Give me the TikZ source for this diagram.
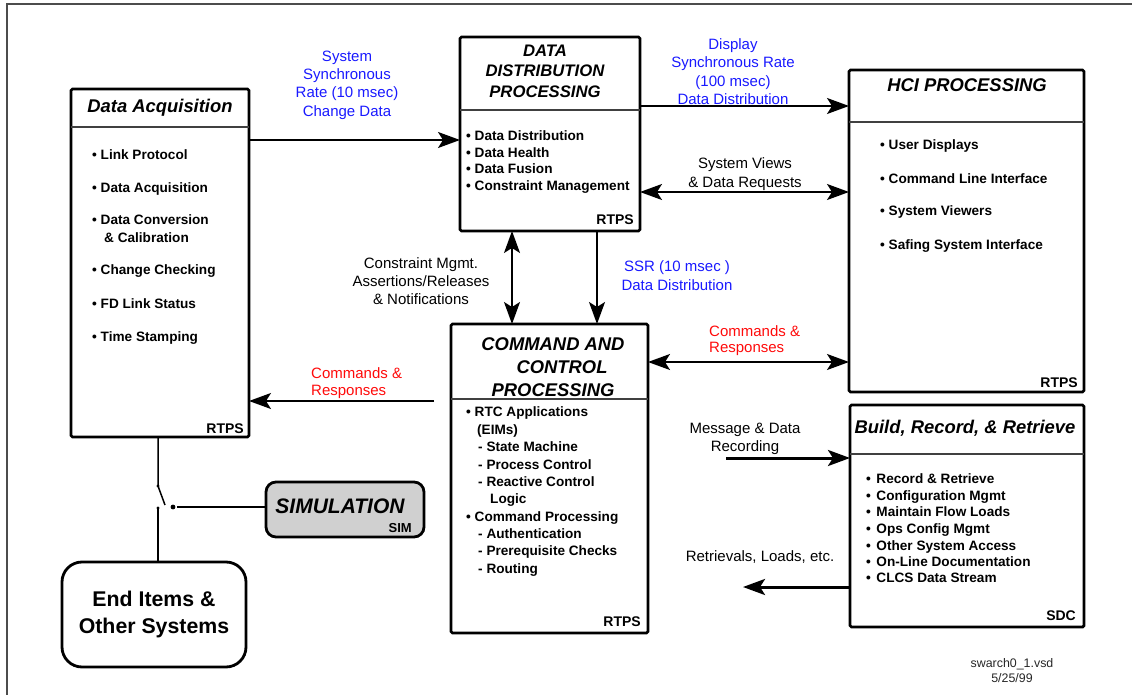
\documentclass[tikz,border=0pt]{standalone}
\usepackage{fontspec}
\setmainfont{Liberation Sans}
\usetikzlibrary{arrows.meta}
\definecolor{lblue}{RGB}{25,25,255}
\definecolor{lred}{RGB}{255,10,10}
\definecolor{fillgray}{RGB}{208,208,208}
\begin{document}
\begin{tikzpicture}[x=1pt,y=-1pt,
 box/.style={draw, line width=2.8pt, inner sep=0pt, outer sep=0pt, anchor=north west, rounded corners=1.5pt},
 sepl/.style={line width=1.6pt, draw=black!75},
 ttl/.style={font=\fontsize{18.4}{23}\selectfont\bfseries\itshape, align=center, inner sep=0pt},
 itm/.style={font=\fontsize{13.6}{16}\selectfont\bfseries, anchor=west, inner sep=0pt, text height=9.8pt, text depth=0pt},
 tag/.style={font=\fontsize{14}{16}\selectfont\bfseries, anchor=east, inner sep=0pt, text height=10pt, text depth=0pt},
 lbl/.style={font=\fontsize{15}{18.3}\selectfont, align=center, inner sep=0pt},
 conn/.style={line width=1.5pt},
 tip/.style={},
 arr/.style={conn, -{Stealth[length=22pt,width=16pt,inset=5pt]}},
 darr/.style={conn, {Stealth[length=22pt,width=16pt,inset=5pt]}-{Stealth[length=22pt,width=16pt,inset=5pt]}},
 arrT/.style={line width=3pt, -{Stealth[length=22pt,width=16pt,inset=5pt]}},
]
\useasboundingbox (0,0) rectangle (1132,695);
% outer frame
\draw[line width=2pt, draw=black!70] (6.5,695) -- (6.5,4) -- (1132,4);

% ---------- boxes ----------
\node[box, minimum width=178pt, minimum height=348pt] (da) at (71,89) {};
\node[box, minimum width=180pt, minimum height=194pt] (ddp) at (460,37) {};
\node[box, minimum width=235pt, minimum height=322pt] (hci) at (849,70) {};
\node[box, minimum width=197pt, minimum height=309pt] (cc) at (451,324) {};
\node[box, minimum width=234pt, minimum height=222pt] (brr) at (850,405) {};
\node[box, minimum width=158pt, minimum height=55pt, rounded corners=10pt, fill=fillgray] (sim) at (266,482) {};
\node[box, minimum width=184pt, minimum height=105pt, rounded corners=20pt] (ei) at (62,562) {};

% separators
\draw[sepl] (da.west |- 0,127) -- (da.east |- 0,127);
\draw[sepl] (ddp.west |- 0,110) -- (ddp.east |- 0,110);
\draw[sepl] (hci.west |- 0,122) -- (hci.east |- 0,122);
\draw[sepl] (cc.west |- 0,399) -- (cc.east |- 0,399);
\draw[sepl] (brr.west |- 0,454) -- (brr.east |- 0,454);

% ---------- titles ----------
\node[ttl] (dat) at (160,108) {Data Acquisition};
\node[ttl, font=\fontsize{16.7}{20.5}\selectfont\bfseries\itshape] (ddpt) at (545,71) {DATA\\DISTRIBUTION\\PROCESSING};
\node[ttl] (hcit) at (967,85) {HCI PROCESSING};
\node[ttl] (cct) at (553,367) {COMMAND AND\\\hspace*{18pt}CONTROL\\PROCESSING};
\node[ttl] (brrt) at (965,428) {Build, Record, \& Retrieve};
\node[ttl, font=\fontsize{21}{24}\selectfont\bfseries\itshape] (simt) at (340,506) {SIMULATION};
\node[font=\fontsize{21.3}{27}\selectfont\bfseries, align=center, inner sep=0pt] (eit) at (154,614) {End Items \&\\Other Systems};

% ---------- items ----------
\foreach \x/\y/\t [count=\i] in {92/155/{• Link Protocol}, 92/188/{• Data Acquisition}, 92/220/{• Data Conversion}, 104/238/{\& Calibration}, 92/270/{• Change Checking}, 92/304/{• FD Link Status}, 92/337/{• Time Stamping}}
  {\node[itm] (dai\i) at (\x,\y) {\t};}
\foreach \y/\t [count=\i] in {136/{• Data Distribution}, 153/{• Data Health}, 169/{• Data Fusion}, 186/{• Constraint Management}}
  {\node[itm] (ddpi\i) at (466,\y) {\t};}
\foreach \y/\t [count=\i] in {145/{• User Displays}, 179/{• Command Line Interface}, 211/{• System Viewers}, 245/{• Safing System Interface}}
  {\node[itm] (hcii\i) at (880,\y) {\t};}
\foreach \x/\y/\t [count=\i] in {466/412/{• RTC Applications}, 477/430/{(EIMs)}, 478/447/{- State Machine}, 478/465/{- Process Control}, 478/482/{- Reactive Control}, 490/499/{Logic}, 466/517/{• Command Processing}, 478/534/{- Authentication}, 478/551/{- Prerequisite Checks}, 478/569/{- Routing}}
  {\node[itm] (cci\i) at (\x,\y) {\t};}
\foreach \y/\t [count=\i] in {479/{Record \& Retrieve}, 496/{Configuration Mgmt}, 512/{Maintain Flow Loads}, 529/{Ops Config Mgmt}, 546/{Other System Access}, 562/{On-Line Documentation}, 578/{CLCS Data Stream}}
  {\node[itm] (brri\i) at (866,\y) {•\hspace{5.5pt}\t};}

% tags
\node[tag] (datag) at (244,428) {RTPS};
\node[tag] (ddptag) at (634,220) {RTPS};
\node[tag] (hcitag) at (1078,382) {RTPS};
\node[tag] (cctag) at (641,621) {RTPS};
\node[tag] (brrtag) at (1076,615) {SDC};
\node[tag, font=\fontsize{13}{15}\selectfont\bfseries, text height=9.3pt] (simtag) at (412,528) {SIM};

% ---------- connectors ----------
\draw[arr] (da.east |- 0,140) -- (ddp.west |- 0,140);
\draw[arr] (ddp.east |- 0,106) -- (hci.west |- 0,106);
\draw[darr] (ddp.east |- 0,192) -- (hci.west |- 0,192);
\draw[darr] (ddp.south -| 512,0) -- (cc.north -| 512,0);
\draw[arr] (ddp.south -| 597,0) -- (cc.north -| 597,0);
\draw[darr] (cc.east |- 0,362) -- (hci.west |- 0,362);
\coordinate (crs) at (434,401);
\draw[arr] (crs) -- (da.east |- crs);
\coordinate (mds) at (726,458);
\draw[arrT] (mds) -- (brr.west |- mds);
\coordinate (rte) at (743,587);
\draw[arrT] (brr.west |- rte) -- (rte);

% switch
\coordinate (swa) at (158,486);
\coordinate (swb) at (165,505);
\coordinate (swc) at (158,508);
\coordinate (swd) at (173,507);
\draw[conn] (da.south -| swa) -- (swa) -- (swb);
\draw[conn] (swc) -- (ei.north -| swc);
\draw[conn] (swd) ++(4,0) -- (sim.west |- swd);
\fill (swa) circle (1.6pt);
\fill (swc) circle (1.6pt);
\fill (swd) circle (2.4pt);

% ---------- labels ----------
\node[lbl, text=lblue] (l1) at (347,85) {System\\Synchronous\\Rate (10 msec)\\Change Data};
\node[lbl, text=lblue] (l2) at (733,71.5) {Display\\Synchronous Rate\\(100 msec)\\Data Distribution};
\node[lbl, font=\fontsize{15}{19}\selectfont] (l3) at (745,174) {System Views\\\& Data Requests};
\node[lbl] (l4) at (421,281) {Constraint Mgmt.\\Assertions/Releases\\\& Notifications};
\node[lbl, text=lblue, font=\fontsize{15}{19}\selectfont] (l5) at (677,276) {SSR (10 msec )\\Data Distribution};
\node[lbl, text=lred, align=left, anchor=west, font=\fontsize{15}{16.5}\selectfont] (l6) at (709,340.5) {Commands \&\\Responses};
\node[lbl, text=lred, align=left, anchor=west, font=\fontsize{15}{17}\selectfont] (l7) at (311,383) {Commands \&\\Responses};
\node[lbl, font=\fontsize{15}{18}\selectfont] (l8) at (745,438.5) {Message \& Data\\Recording};
\node[lbl] (l9) at (760,557) {Retrievals, Loads, etc.};
\node[lbl, font=\fontsize{12.4}{15.5}\selectfont, text=black!85] (foot) at (1012,670.5) {swarch0\_1.vsd\\5/25/99};
\end{tikzpicture}
\end{document}
